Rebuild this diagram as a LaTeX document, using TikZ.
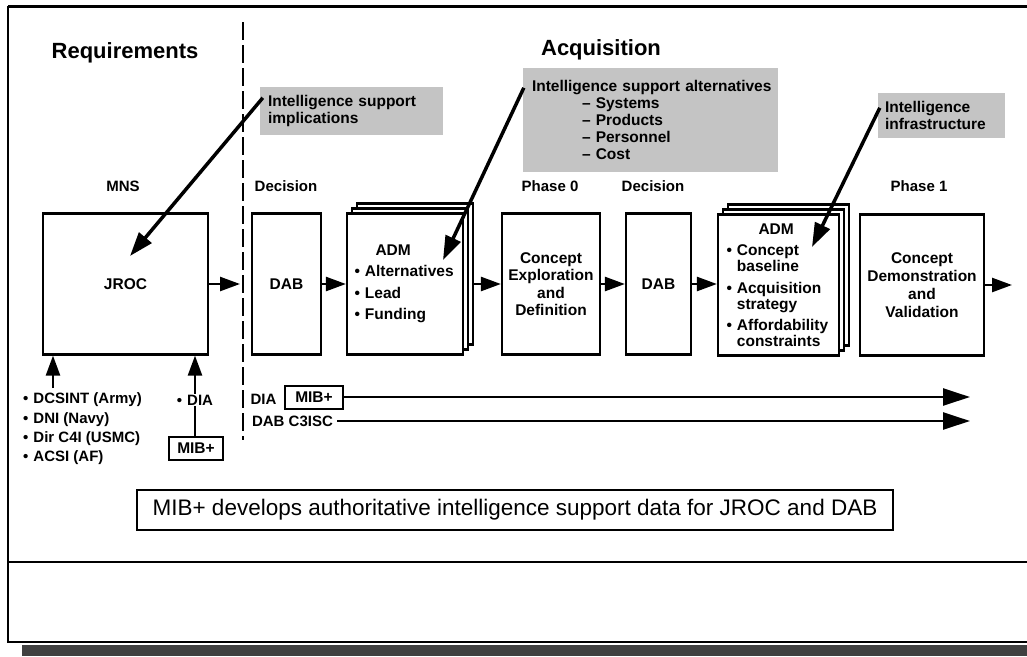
\documentclass[tikz,border=0pt]{standalone}
\usepackage{fontspec}
\setmainfont{Liberation Sans}
\usetikzlibrary{arrows.meta,shadows,calc}

\newcommand{\bul}{•\hspace{5pt}}
\newcommand{\bulgap}{\hphantom{\bul}}

\tikzset{
  stage/.style={draw, line width=2.2pt, minimum height=141pt, inner sep=0pt, align=center,
    font=\fontsize{15.5}{17.5}\selectfont\bfseries},
  stack/.style={fill=white, double copy shadow={shadow xshift=5pt, shadow yshift=5pt,
    draw=black, fill=white, line width=2.2pt}},
  callout/.style={fill=black!23, inner xsep=8pt, inner ysep=0pt, align=left,
    font=\fontsize{15.5}{17}\selectfont\bfseries},
  tag/.style={inner sep=1pt, font=\fontsize{15}{19.3}\selectfont\bfseries},
  head/.style={inner sep=1pt, font=\fontsize{22}{24}\selectfont\bfseries},
  mib/.style={draw, line width=2pt, minimum height=23pt, inner sep=0pt,
    font=\fontsize{15.5}{17}\selectfont\bfseries},
  flow/.style={line width=2.5pt, -{Triangle[length=20pt,width=14pt]}},
  feed/.style={line width=2.5pt, -{Triangle[length=27pt,width=17pt]}},
  hint/.style={line width=3.5pt, -{Triangle[length=24pt,width=16pt]}}
}

\begin{document}
\begin{tikzpicture}[x=1pt, y=-1pt]
  \useasboundingbox (0,0) rectangle (1027,656);

  % frame
  \draw[line width=3pt] (8,6) -- (1027,6);
  \draw[line width=2pt] (8,6) -- (8,642) -- (1027,642);
  \draw[line width=2pt] (8,562) -- (1027,562);
  \fill[black!75] (22,645) rectangle (1027,656);
  \draw[line width=2.5pt, dash pattern=on 18pt off 5pt] (243,22) -- (243,440);

  \node[head] (req) at (125,53) {Requirements};
  \node[head] (acq) at (601,50) {Acquisition};

  \node[tag] (mns) at (123,186) {MNS};
  \node[tag] (dec1) at (286,186) {Decision};
  \node[tag] (ph0) at (550,186) {Phase 0};
  \node[tag] (dec2) at (653,186) {Decision};
  \node[tag] (ph1) at (919,186) {Phase 1};

  \node[stage, minimum width=165pt] (jroc) at (125.5,284) {JROC};
  \node[stage, minimum width=69pt] (dab1) at (286.5,284) {DAB};
  \node[stage, stack, minimum width=116pt, text width=101pt, align=left,
    font=\fontsize{15.5}{17.5}\selectfont\bfseries] (adm1) at (405,284)
    {\hspace*{21pt}ADM\\[4pt]\bul Alternatives\\[4pt]\bul Lead\\[4pt]\bul Funding};
  \node[stage, minimum width=98pt] (ce) at (551,284) {Concept\\Exploration\\and\\Definition};
  \node[stage, minimum width=65pt] (dab2) at (658.5,284) {DAB};
  \node[stage, stack, minimum width=121pt, text width=104pt, align=left,
    font=\fontsize{15.5}{16}\selectfont\bfseries] (adm2) at (778.5,285)
    {\hspace*{32pt}ADM\\[5pt]\bul Concept\\\bulgap baseline\\[6pt]\bul Acquisition\\\bulgap strategy\\[5pt]\bul Affordability\\\bulgap constraints};
  \node[stage, minimum width=124pt, font=\fontsize{15.5}{18}\selectfont\bfseries] (cdv) at (922,285)
    {Concept\\Demonstration\\and\\Validation};

  \coordinate (gate) at (240,284);
  \coordinate (exit) at (1012,285);
  \draw[flow] (jroc.east) -- (gate);
  \draw[flow] (dab1.east) -- (adm1.west);
  \draw[flow] ([xshift=10pt]adm1.east) -- (ce.west);
  \draw[flow] (ce.east) -- (dab2.west);
  \draw[flow] (dab2.east) -- (dab2.east -| adm2.west);
  \draw[flow] (cdv.east) -- (exit);

  % sources below JROC
  \node[tag, align=left, anchor=west] (svc) at (22,429)
    {\bul DCSINT (Army)\\\bul DNI (Navy)\\\bul Dir C4I (USMC)\\\bul ACSI (AF)};
  \coordinate (svcup) at (53,388);
  \draw[flow] (svcup) -- (svcup |- jroc.south);
  \node[tag] (dia1) at (195,400) {\bul DIA};
  \node[mib, minimum width=54pt] (mib1) at (196,448.5) {MIB+};
  \draw[flow] (dia1.north) -- (dia1.north |- jroc.south);
  \draw[line width=2pt] (dia1.south) -- (dia1.south |- mib1.north);

  \node[tag] (dia2) at (263.5,399) {DIA};
  \node[mib, minimum width=58pt] (mib2) at (314,397) {MIB+};
  \node[tag] (c3isc) at (292.5,421) {DAB C3ISC};
  \coordinate (mibend) at (970,397);
  \coordinate (c3iscend) at (970,421);
  \draw[feed] (mib2.east) -- (mibend);
  \draw[feed] ([xshift=3pt]c3isc.east) -- (c3iscend);

  % callouts
  \node[callout, minimum width=183pt, minimum height=48pt, text width=167pt] (impl) at (351.5,111)
    {Intelligence support\\implications};
  \node[callout, minimum width=255pt, minimum height=104pt, text width=247pt, inner xsep=4pt] (alts) at (650.5,120)
    {\hspace*{5pt}Intelligence support alternatives\\\hspace*{55pt}– Systems\\\hspace*{55pt}– Products\\\hspace*{55pt}– Personnel\\\hspace*{55pt}– Cost};
  \node[callout, minimum width=127pt, minimum height=45pt, text width=113pt, inner xsep=7pt] (infra) at (941.5,115.5)
    {Intelligence\\infrastructure};
  \coordinate (jroctip) at (130,256);
  \coordinate (adm1tip) at (443,260);
  \coordinate (adm2tip) at (812,247);
  \draw[hint] ($(impl.north west)+(3,11)$) -- (jroctip);
  \draw[hint] ($(alts.north west)+(1,20)$) -- (adm1tip);
  \draw[hint] ($(infra.north west)+(2,15)$) -- (adm2tip);

  \node[draw, line width=1.5pt, minimum width=756pt, minimum height=40pt,
    font=\fontsize{22.5}{24}\selectfont] (note) at (515,510)
    {MIB+ develops authoritative intelligence support data for JROC and DAB};
\end{tikzpicture}
\end{document}
